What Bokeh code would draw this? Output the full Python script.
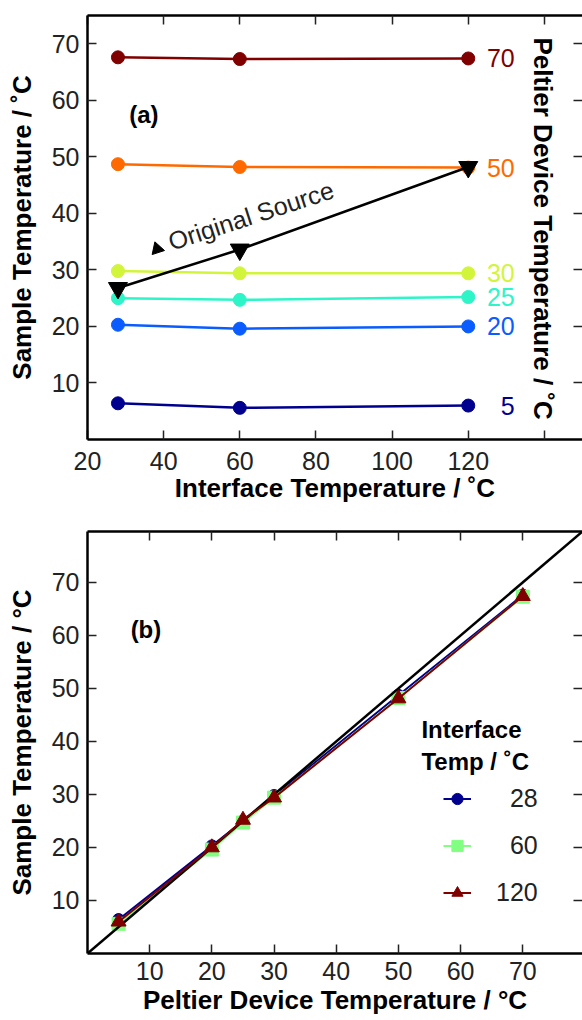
import math

from bokeh.embed import file_html
from bokeh.layouts import column
from bokeh.models import (ColumnDataSource, FixedTicker, Label, Legend,
                          LegendItem, LinearAxis, Range1d)
from bokeh.plotting import figure
from bokeh.resources import INLINE

# ---- data -------------------------------------------------------------
interface_temps = [28, 60, 120]            # interface temperature, °C
peltier_temps = [5, 20, 25, 30, 50, 70]     # Peltier device set point, °C

# sample temperature at each interface temperature, one list per set point
sample_t5 = [6.4, 5.6, 6.0]
sample_t20 = [20.3, 19.6, 20.0]
sample_t25 = [25.0, 24.7, 25.2]
sample_t30 = [29.8, 29.4, 29.4]
sample_t50 = [48.7, 48.2, 48.1]
sample_t70 = [67.6, 67.3, 67.4]

original_source = [26.8, 33.6, 48.2]

panel_a_ticks_x = [20, 40, 60, 80, 100, 120, 140]
panel_a_ticks_y = [10, 20, 30, 40, 50, 60, 70]
panel_b_ticks = [10, 20, 30, 40, 50, 60, 70]

# ---- styling ----------------------------------------------------------
FONT = "Liberation Sans"
TICK_COLOR = "#222222"
series_colors = {5: "#00008f", 20: "#0a5cff", 25: "#2ef5c8",
                 30: "#d2f53c", 50: "#ff6a00", 70: "#800000"}
interface_colors = {28: "#00008f", 60: "#80ff80", 120: "#800000"}

series = {5: sample_t5, 20: sample_t20, 25: sample_t25,
          30: sample_t30, 50: sample_t50, 70: sample_t70}


def style_axis(ax):
    ax.axis_line_color = "black"
    ax.axis_line_width = 2.5
    ax.major_tick_in = 9
    ax.major_tick_out = 0
    ax.minor_tick_in = 9
    ax.minor_tick_out = 0
    ax.major_tick_line_color = TICK_COLOR
    ax.major_tick_line_width = 1.5
    ax.minor_tick_line_color = TICK_COLOR
    ax.minor_tick_line_width = 1.5
    ax.major_label_text_font = FONT
    ax.major_label_text_font_size = "25px"
    ax.major_label_text_color = TICK_COLOR
    ax.major_label_standoff = 8
    ax.axis_label_text_font = FONT
    ax.axis_label_text_font_style = "bold"
    ax.axis_label_text_font_size = "26px"
    ax.axis_label_text_color = "black"


def make_figure(xr, yr, height, top, bottom):
    p = figure(width=582, height=height, x_range=xr, y_range=yr,
               output_backend="svg", toolbar_location=None,
               min_border_left=87, min_border_right=0,
               min_border_top=top, min_border_bottom=bottom)
    p.grid.visible = False
    p.outline_line_color = None
    p.background_fill_color = "white"
    p.border_fill_color = "white"
    return p


def frame_axes(p, xticks, yticks, xlabel, ylabel, x_overrides=None):
    xa, ya = p.xaxis[0], p.yaxis[0]
    xa.ticker = FixedTicker(ticks=xticks)
    ya.ticker = FixedTicker(ticks=yticks)
    if x_overrides:
        xa.major_label_overrides = x_overrides
    style_axis(xa)
    style_axis(ya)
    xa.axis_label = xlabel
    ya.axis_label = ylabel
    xa.axis_label_standoff = 2
    ya.axis_label_standoff = 12
    # mirrored tick marks on the top and right edges, without labels
    top_ax = LinearAxis(ticker=FixedTicker(ticks=[], minor_ticks=xticks))
    style_axis(top_ax)
    top_ax.major_label_standoff = 0
    p.add_layout(top_ax, "above")
    right_ax = LinearAxis(ticker=FixedTicker(ticks=[], minor_ticks=yticks))
    style_axis(right_ax)
    right_ax.major_label_standoff = 0
    right_ax.axis_line_color = None
    p.add_layout(right_ax, "right")
    return xa, ya


def text_label(x, y, text, size, color="black", bold=False, **kw):
    return Label(x=x, y=y, text=text, text_font=FONT,
                 text_font_size=size, text_color=color,
                 text_font_style="bold" if bold else "normal", **kw)


# ---- panel (a): sample temperature vs interface temperature ----------
pa = make_figure(Range1d(20, 150), Range1d(0, 75), 516, 15, 77)
xa_a, _ = frame_axes(pa, panel_a_ticks_x, panel_a_ticks_y,
                     "Interface Temperature / ˚C", "Sample Temperature / ˚C",
                     {140: ""})
xa_a.major_label_standoff = 12
xa_a.axis_label_standoff = 0

for setpoint, ys in series.items():
    c = series_colors[setpoint]
    pa.line(interface_temps, ys, line_color=c, line_width=2.5)
    pa.scatter(interface_temps, ys, marker="circle", size=13,
               fill_color=c, line_color=c)
    pa.add_layout(text_label(132.2, ys[-1], str(setpoint), "25px", c,
                             text_align="right", text_baseline="middle"))

pa.line(interface_temps, original_source, line_color="black", line_width=2.5)
pa.scatter(interface_temps, original_source, marker="inverted_triangle",
           size=19, fill_color="black", line_color="black")

src_angle = math.radians(18)
pa.scatter([38.3], [33.7], marker="triangle", size=13, angle=src_angle,
           fill_color="black", line_color="black")
pa.add_layout(text_label(41.4, 34.9, "Original Source", "25px", "#222222",
                         angle=src_angle, text_align="left",
                         text_baseline="alphabetic"))

pa.add_layout(text_label(34.8, 57.4, "(a)", "24px", bold=True,
                         text_align="center", text_baseline="middle"))
pa.add_layout(text_label(139.6, 37.3, "Peltier Device Temperature / ˚C",
                         "26px", bold=True, angle=-math.pi / 2,
                         text_align="center", text_baseline="middle"))

# ---- panel (b): sample temperature vs Peltier temperature -------------
pb = make_figure(Range1d(0, 79.6), Range1d(0, 79.6), 504, 15, 67)
frame_axes(pb, panel_b_ticks, panel_b_ticks,
           "Peltier Device Temperature / °C", "Sample Temperature / °C")

markers = {28: "circle", 60: "square", 120: "triangle"}
sizes = {28: 12, 60: 13, 120: 15}
renderers_by_temp = {}
for i, t_int in enumerate(interface_temps):
    ys = [series[s][i] for s in peltier_temps]
    c = interface_colors[t_int]
    src = ColumnDataSource(dict(x=peltier_temps, y=ys))
    ln = pb.line("x", "y", source=src, line_color=c, line_width=2)
    mk = pb.scatter("x", "y", source=src, marker=markers[t_int],
                    size=sizes[t_int], fill_color=c, line_color=c)
    renderers_by_temp[t_int] = [ln, mk]
    if t_int == 60:
        # one-to-one reference line
        pb.line([0, 80], [0, 80], line_color="black", line_width=2.5)

FIG_SPACE = "\u2007"
legend_items = [LegendItem(label=str(t).rjust(3, FIG_SPACE),
                           renderers=renderers_by_temp[t])
                for t in interface_temps]

legend = Legend(items=legend_items, location=(356, 46),
                background_fill_alpha=0, border_line_color=None,
                padding=0, margin=0, spacing=18,
                glyph_width=28, glyph_height=29, label_height=29,
                label_standoff=25, label_text_font=FONT,
                label_text_font_size="25px", label_text_color="#222222")
pb.add_layout(legend, "center")

pb.add_layout(text_label(53.7, 42.2, "Interface", "24px", bold=True,
                         text_align="left", text_baseline="alphabetic"))
pb.add_layout(text_label(53.7, 36.3, "Temp / ˚C", "24px", bold=True,
                         text_align="left", text_baseline="alphabetic"))
pb.add_layout(text_label(9.4, 61.2, "(b)", "24px", bold=True,
                         text_align="center", text_baseline="middle"))

page = column(pa, pb, spacing=0)
open("out.html", "w").write(file_html(page, INLINE))
